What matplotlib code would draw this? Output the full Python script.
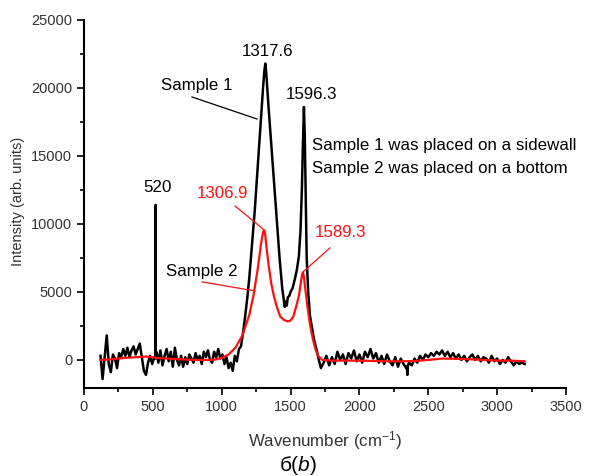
import numpy as np
import matplotlib
matplotlib.use('Agg')
import matplotlib.pyplot as plt
from matplotlib.ticker import MultipleLocator

plt.rcParams['font.family'] = ['Liberation Sans', 'DejaVu Sans']
plt.rcParams['mathtext.fontset'] = 'custom'
plt.rcParams['mathtext.rm'] = 'Liberation Sans'
plt.rcParams['mathtext.it'] = 'Liberation Sans:italic'

# ── Sample 1 (black) ──────────────────────────────────────────────────
# baseline below the D band, sampled every 15 cm-1 from 120 to 1140
s1_low_wn = np.arange(120, 1141, 15)
s1_low_int = [300, -1400, 200, 1800, -300, -900, 400, 100, -600, 500,
              200, 800, 300, 900, 200, 700, 1000, 400, 800, 1200,
              200, -800, -1100, -200, 300, -300, 200, 600, -200, 700,
              -400, 300, 800, -100, 600, -500, 900, 0, -400, 300,
              -500, 200, -300, 400, 100, -200, 500, 0, 300, -300,
              600, 200, 700, 0, -200, 600, 200, 800, 100, 400,
              -300, 200, -600, -200, -800, 300, -100, 800, 1000]

# narrow features: Si line at 520 and a dip near 2348
s1_spike_wn = [519, 520, 521, 2344, 2348, 2352]
s1_spike_int = [100, 11400, 200, -500, -1100, -400]

# D and G bands
s1_band_wn = [1155, 1170, 1185, 1200, 1220, 1240, 1260, 1280, 1300, 1310,
              1317, 1324, 1340, 1360, 1380, 1400, 1420, 1440, 1450, 1458,
              1465, 1472, 1480, 1490, 1500, 1515, 1530, 1545, 1560, 1572,
              1582, 1590, 1597, 1603, 1610, 1617, 1628, 1640, 1655, 1670,
              1690, 1705]
s1_band_int = [2000, 3200, 4500, 6000, 8500, 11000, 14000, 17000, 20000, 21300,
               21800, 21000, 18600, 15800, 13000, 10200, 7500, 5200, 4500, 3900,
               4300, 4000, 4600, 4700, 5000, 5300, 5900, 6600, 7600, 9500,
               12500, 16000, 18600, 16500, 12000, 7500, 5000, 3300, 2400, 1500,
               700, 0]

# baseline above the G band, sampled every 20 cm-1 from 1720 to 3200
s1_high_wn = np.arange(1720, 3201, 20)
s1_high_int = [-600, -200, 300, -400, 200, -300, 600, 0, 400, -300,
               500, 100, 700, -100, 400, -200, 600, 200, 800, 100,
               500, -200, 300, -300, 400, -100, -400, 200, -500, 100,
               -300, -600, -200, -400, 100, -200, 300, 0, 400, 200,
               500, 300, 600, 400, 700, 300, 600, 200, 500, 100,
               400, 0, 300, -100, 200, 400, 0, 300, -100, 200,
               100, -200, 300, -100, 100, -300, 0, -200, 200, -100,
               -400, -100, -300, -200, -300]

# ── Sample 2 (red) ────────────────────────────────────────────────────
s2_wn = [120, 200, 300, 400, 450, 500, 520, 600, 700, 800,
         900, 950, 1000, 1050, 1100, 1150, 1200, 1230, 1260, 1285,
         1300, 1307, 1315, 1325, 1340, 1360, 1380, 1400, 1425, 1450,
         1480, 1500, 1520, 1540, 1560, 1575, 1584, 1590, 1597, 1607,
         1620, 1635, 1650, 1665, 1680, 1700, 1730, 1800, 1900, 2000,
         2100, 2200, 2300, 2400, 2500, 2600, 2700, 2800, 2900, 3000,
         3100, 3200]
s2_int = [0, 50, 150, 220, 250, 200, 150, 100, 50, 0,
          0, 20, 150, 400, 900, 1800, 3300, 4700, 6600, 8500,
          9400, 9550, 9300, 8300, 7000, 5600, 4650, 3900, 3200, 2950,
          2830, 2900, 3200, 3900, 4700, 5700, 6300, 6450, 6100, 5200,
          4100, 3000, 2100, 1400, 800, 300, 0, -50, -50, -50,
          -80, -100, -100, -80, 0, 100, 80, 50, 0, -50,
          -50, -100]

# merge the black pieces into one sorted trace
s1_wn = np.concatenate([s1_low_wn, s1_spike_wn, s1_band_wn, s1_high_wn])
s1_int = np.concatenate([s1_low_int, s1_spike_int, s1_band_int, s1_high_int])
order = np.argsort(s1_wn, kind='stable')
s1_wn, s1_int = s1_wn[order], s1_int[order]

# ── Figure ────────────────────────────────────────────────────────────
fig = plt.figure(figsize=(5.89, 4.76), dpi=100)
ax = fig.add_axes([0.1426, 0.185, 0.8184, 0.773])

RED = '#ff1010'
ax.plot(s1_wn, s1_int, color='black', lw=1.8)
ax.plot(s2_wn, s2_int, color=RED, lw=1.6)

ax.set_xlim(0, 3500)
ax.set_ylim(-2060, 25000)
ax.xaxis.set_major_locator(MultipleLocator(500))
ax.xaxis.set_minor_locator(MultipleLocator(250))
ax.yaxis.set_major_locator(MultipleLocator(5000))
ax.yaxis.set_minor_locator(MultipleLocator(2500))
ax.tick_params(which='major', direction='out', length=5, width=1.2,
               labelsize=10.5, labelcolor='#333333')
ax.tick_params(which='minor', direction='out', length=3, width=1.2)
ax.spines['top'].set_visible(False)
ax.spines['right'].set_visible(False)
for sp in ['left', 'bottom']:
    ax.spines[sp].set_linewidth(1.5)

# ── Annotations ───────────────────────────────────────────────────────
fs = 12.2
ax.text(1329, 22700, '1317.6', ha='center', va='center', fontsize=fs)
ax.text(1649, 19500, '1596.3', ha='center', va='center', fontsize=fs)
ax.text(534, 12650, '520', ha='center', va='center', fontsize=fs)
ax.text(822, 20150, 'Sample 1', ha='center', va='center', fontsize=fs)
ax.plot([784, 1256], [19340, 17720], color='black', lw=0.9)
ax.text(858, 6540, 'Sample 2', ha='center', va='center', fontsize=fs)
ax.plot([857, 1242], [5740, 5070], color=RED, lw=0.9)
ax.text(1004, 12270, '1306.9', ha='center', va='center', fontsize=fs, color=RED)
ax.plot([1097, 1300], [11320, 9630], color=RED, lw=0.9)
ax.text(1859, 9340, '1589.3', ha='center', va='center', fontsize=fs, color=RED)
ax.plot([1786, 1590], [8240, 6470], color=RED, lw=0.9)
ax.text(1656, 15740, 'Sample 1 was placed on a sidewall', ha='left', va='center', fontsize=fs)
ax.text(1656, 14110, 'Sample 2 was placed on a bottom', ha='left', va='center', fontsize=fs)

fig.text(0.031, 0.576, 'Intensity (arb. units)', rotation=90, ha='center', va='center',
         fontsize=10.5, color='#333333')
fig.text(0.552, 0.075, 'Wavenumber (cm$^{-1}$)', ha='center', va='center', fontsize=12.2,
         color='#333333')
fig.text(0.506, 0.023, 'б($\\mathit{b}$)', ha='center', va='center', fontsize=15)

fig.savefig('out.png', dpi=100)
